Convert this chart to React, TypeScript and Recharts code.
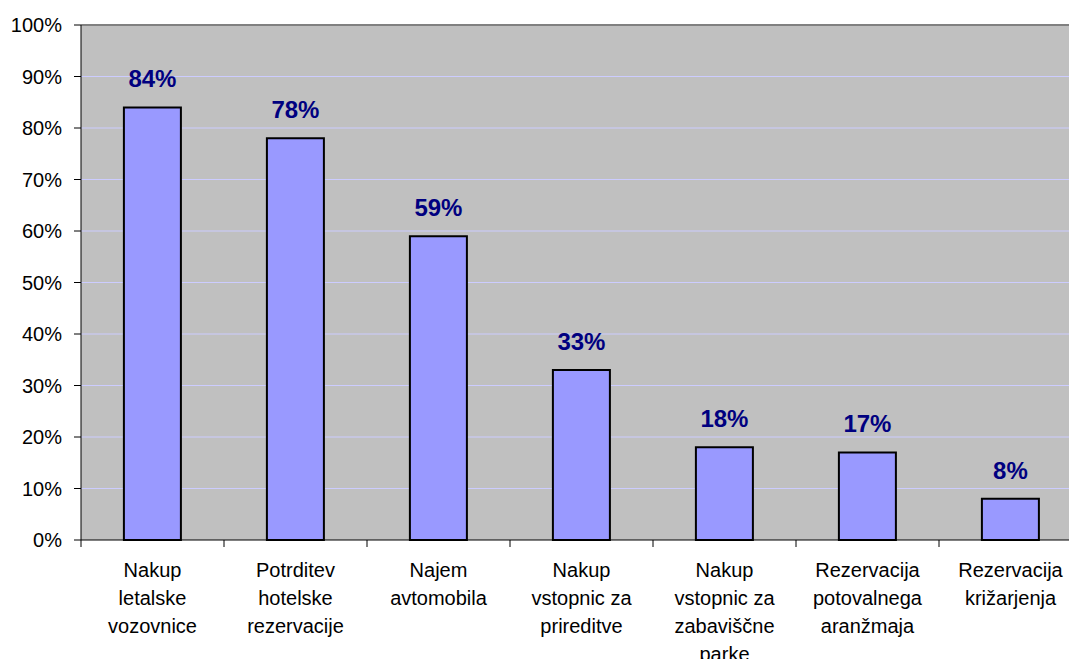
import { Bar, BarChart, CartesianGrid, LabelList, ReferenceLine, XAxis, YAxis } from "recharts";

const categories = [
  "Nakup\nletalske\nvozovnice",
  "Potrditev\nhotelske\nrezervacije",
  "Najem\navtomobila",
  "Nakup\nvstopnic za\nprireditve",
  "Nakup\nvstopnic za\nzabaviščne\nparke",
  "Rezervacija\npotovalnega\naranžmaja",
  "Rezervacija\nkrižarjenja",
];
const shares = [0.84, 0.78, 0.59, 0.33, 0.18, 0.17, 0.08];
const yTicks = [0, 0.1, 0.2, 0.3, 0.4, 0.5, 0.6, 0.7, 0.8, 0.9, 1];

const data = categories.map((name, i) => ({ name, value: shares[i] }));

const FONT = "'Liberation Sans', Arial, sans-serif";
const CHART_W = 1082;
const CHART_H = 659;
const LEFT = 81;
const BAND = (CHART_W - LEFT) / categories.length;
const TICK_DROP = 37;

const pct = (v: number) => `${Math.round(v * 100)}%`;

function CategoryTick(props: any) {
  const { x, y, payload, index } = props;
  const lines = String(payload.value).split("\n");
  const left = x - BAND / 2;
  const axisY = y - TICK_DROP;
  return (
    <g>
      <line x1={left} x2={left} y1={axisY} y2={axisY + 7} stroke="#000" />
      {index === categories.length - 1 && (
        <line x1={x + BAND / 2} x2={x + BAND / 2} y1={axisY} y2={axisY + 7} stroke="#000" />
      )}
      <text x={x} y={y} textAnchor="middle" fill="#000" fontSize={20} fontFamily={FONT}>
        {lines.map((l, i) => (
          <tspan key={i} x={x} dy={i === 0 ? 0 : 28}>
            {l}
          </tspan>
        ))}
      </text>
    </g>
  );
}

export default function App() {
  return (
    <div style={{ position: "absolute", left: 0, top: 0, width: 1069, height: 659, overflow: "hidden", background: "#fff" }}>
      <BarChart
        width={CHART_W}
        height={CHART_H}
        data={data}
        margin={{ top: 25, right: 0, bottom: 0, left: 0 }}
        barCategoryGap="30%"
      >
        <CartesianGrid fill="#c0c0c0" stroke="#ccccff" vertical={false} horizontalValues={yTicks.slice(1, -1)} />
        <ReferenceLine y={1} stroke="#808080" strokeWidth={2} />
        <XAxis
          dataKey="name"
          interval={0}
          tickLine={false}
          axisLine={{ stroke: "#000" }}
          tick={<CategoryTick />}
          tickMargin={0}
          tickSize={TICK_DROP}
          height={119}
        />
        <YAxis
          domain={[0, 1]}
          ticks={yTicks}
          width={LEFT}
          tickFormatter={pct}
          axisLine={{ stroke: "#000" }}
          tickLine={{ stroke: "#000" }}
          tickSize={7}
          tickMargin={12}
          tick={{ fill: "#000", fontSize: 20, fontFamily: FONT }}
          interval={0}
        />
        <Bar dataKey="value" fill="#9999ff" stroke="#000" strokeWidth={2} isAnimationActive={false}>
          <LabelList
            dataKey="value"
            position="top"
            offset={20}
            formatter={(v: any) => pct(Number(v))}
            fill="#000080"
            fontSize={24}
            fontWeight="bold"
            fontFamily={FONT}
          />
        </Bar>
      </BarChart>
    </div>
  );
}
